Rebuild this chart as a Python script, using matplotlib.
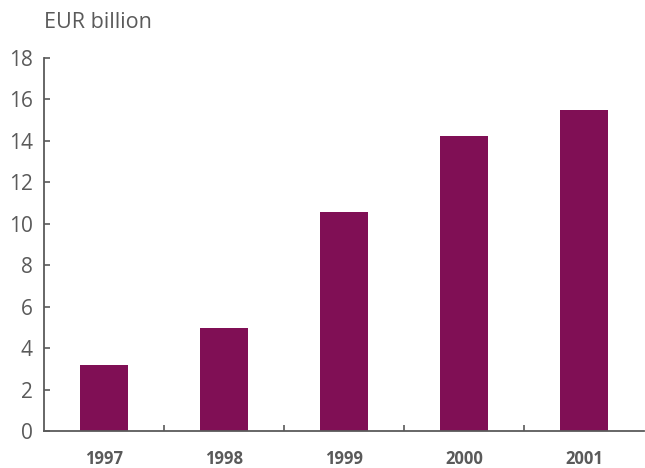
import matplotlib
matplotlib.use("Agg")
import matplotlib.pyplot as plt
import numpy as np

years = ["1997", "1998", "1999", "2000", "2001"]
values = [3.18, 4.97, 10.57, 14.22, 15.5]

bar_color = "#800F55"
grey = "#5a5a5a"

plt.rcParams['font.family'] = ['Open Sans', 'DejaVu Sans']

fig = plt.figure(figsize=(6.45, 4.68), dpi=100)
ax = fig.add_axes([44/645, 37/468, 1 - 44/645 - 0.001, (431-58)/468])

x = np.arange(len(years))
ax.bar(x, values, width=0.4, color=bar_color, zorder=2)

ax.set_xlim(-0.5, len(years) - 0.5)
ax.set_ylim(0, 18)
ax.set_yticks(np.arange(0, 19, 2))
ax.tick_params(axis='y', direction='in', length=4, width=1.2, color=grey,
               labelsize=15, labelcolor=grey, pad=8)

ax.set_xticks(x)
ax.set_xticklabels(years, fontweight='bold', fontsize=12, color=grey)
ax.tick_params(axis='x', which='major', length=0, pad=14)
ax.set_xticks(np.arange(0.5, len(years) - 0.5, 1), minor=True)
ax.tick_params(axis='x', which='minor', direction='in', length=4, width=1.2, color=grey)

for s in ['top', 'right']:
    ax.spines[s].set_visible(False)
for s in ['left', 'bottom']:
    ax.spines[s].set_color(grey)
    ax.spines[s].set_linewidth(1.3)

fig.text(44/645, 1 - 22/468, "EUR billion", fontsize=15.5, color=grey,
         ha='left', va='center')

fig.savefig("out.png", dpi=100)
